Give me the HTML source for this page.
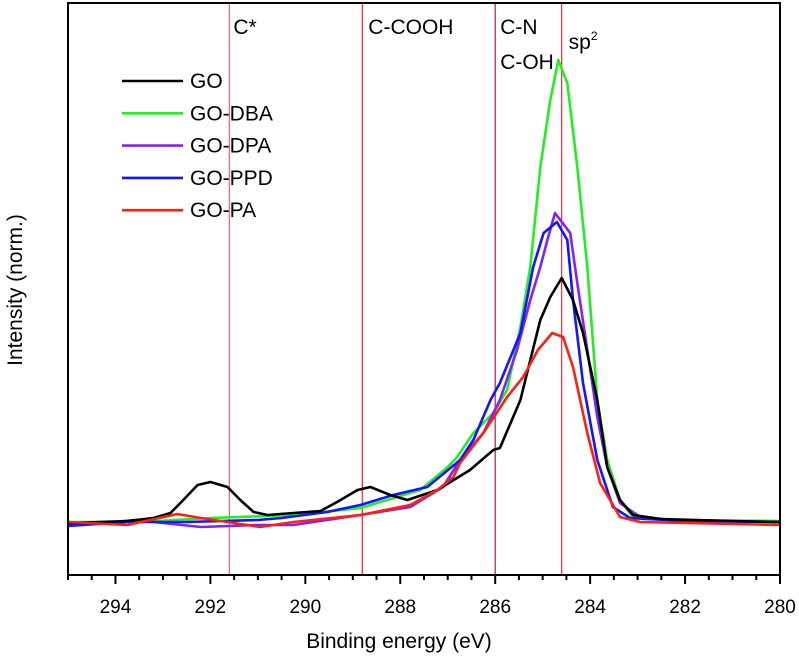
<!DOCTYPE html>
<html><head><meta charset="utf-8"><style>
body{margin:0;background:#fff}
svg{display:block;font-family:"Liberation Sans",Arial,sans-serif}
</style></head><body>
<svg id="chart" width="799" height="663">
<g id="lines"></g>
<g id="marks"></g>
<rect x="68" y="3" width="712" height="572" fill="none" stroke="#000" stroke-width="2"/>
<g id="xaxis"></g>
<text x="399" y="648" font-size="21" text-anchor="middle">Binding energy (eV)</text>
<text transform="translate(22,290) rotate(-90)" font-size="21" text-anchor="middle">Intensity (norm.)</text>
<g id="legend"></g>
</svg>
<script>
const xTicks=[294,292,290,288,286,284,282,280];
const refLines=[291.6,288.8,286.0,284.6];
const refLabels=["C*","C-COOH","C-N","C-OH","sp"];
const seriesNames=["GO","GO-DBA","GO-DPA","GO-PPD","GO-PA"];
const seriesColors=["#000000","#22ee22","#7f22ff","#1414ff","#ff2010"];
const goX=[295,294.95,293.75,293.2,292.84,292.57,292.27,292.0,291.64,291.37,291.09,290.8,290.25,289.68,289.33,288.9,288.63,288.21,287.85,287.22,286.53,286.04,285.9,285.47,285.26,285.05,284.84,284.6,284.36,284.15,283.85,283.64,283.37,283.1,282.5,281,280];
const goY=[52,52,54,57,62,75,90,93,88,75,63,60,62,64,73,85,88,80,75,85,105,125,127,175,215,255,278,297,275,242,175,108,75,60,56,54,53];
const dbaX=[295,293.5,292,290.25,288.84,287.58,287.0,286.8,286.46,286.04,285.75,285.47,285.26,285.05,284.84,284.67,284.48,284.27,284.06,283.85,283.64,283.37,283.1,282.5,280];
const dbaY=[53,53,57,60,67,85,108,118,142,162,185,248,308,408,475,515,492,408,308,175,115,75,58,55,54];
const dpaX=[295,294.0,293.6,292.2,291.0,290.25,288.84,287.79,287.1,286.74,286.25,285.9,285.54,285.26,285.05,284.9,284.74,284.42,284.27,284.06,283.85,283.64,283.37,282.95,282,280];
const dpaY=[50,53,55,48,50,50,60,68,88,115,142,175,225,275,308,335,362,342,292,225,158,108,72,58,54,53];
const ppdX=[295,293.75,292.5,291,290.5,289.54,288.84,288.15,287.43,286.74,286.46,286.1,285.9,285.47,285.2,284.98,284.7,284.48,284.36,284.15,283.85,283.52,283.16,282,280];
const ppdY=[49,53,53,55,57,63,70,80,88,115,135,175,192,242,308,342,353,335,275,192,115,68,57,54,53];
const paX=[295,293.75,292.7,292.2,291.5,290.95,290.25,288.84,287.79,287.22,286.88,286.74,286.25,285.75,285.41,285.1,284.8,284.57,284.36,284.06,283.79,283.37,282.95,280];
const paY=[53,50,61,57,52,48,53,60,70,85,98,112,142,178,198,225,242,238,208,142,92,58,53,50];
const allX=[goX,dbaX,dpaX,ppdX,paX];
const allY=[goY,dbaY,dpaY,ppdY,paY];
const seriesKeys=["go","go-dba","go-dpa","go-ppd","go-pa"];

const X0=68,X1=780,Y0=575,Y1=3;
const xs=v=>X0+(295-v)/(295-280)*(X1-X0);
const ys=v=>Y0-v/572*(Y0-Y1);
const NS="http://www.w3.org/2000/svg";
function mk(t,a,p){const e=document.createElementNS(NS,t);for(const k in a)e.setAttribute(k,a[k]);p.appendChild(e);return e;}

const xa=document.getElementById('xaxis');
for(let v=295;v>=280;v-=0.5){
  const major=Math.abs(v-Math.round(v/2)*2)<1e-9;
  const t=mk('line',{x1:xs(v),x2:xs(v),y1:Y0,y2:Y0+(major?9:5),stroke:'#000','stroke-width':2},xa);
  
  
}
xTicks.forEach(v=>{
  const t=mk('text',{x:xs(v),y:613,'font-size':19,'text-anchor':'middle'},xa);
  t.textContent=v;
  
  
});

const ln=document.getElementById('lines');
const refCols=['#ff6060','#ff2020','#c01060','#ff2030'];
refLines.forEach((v,i)=>{
  const l=mk('line',{x1:xs(v),x2:xs(v),y1:Y1,y2:Y0,stroke:refCols[i],'stroke-width':1.2},ln);
  
  
});
const labPos=[[xs(refLines[0])+4,34],[xs(refLines[1])+6,34],[xs(refLines[2])+5,34],[xs(refLines[2])+5,69]];
labPos.forEach((p,i)=>{
  const t=mk('text',{x:p[0],y:p[1],'font-size':21},ln);
  t.textContent=refLabels[i];
  
  
});
const sp=mk('text',{x:xs(refLines[3])+7,y:49,'font-size':21},ln);
sp.innerHTML='sp<tspan dy="-9" font-size="12">2</tspan>';



const mg=document.getElementById('marks');
const order=[1,2,3,0,4];
order.forEach(i=>{
  const d=allX[i].map((x,j)=>(j?'L':'M')+xs(x).toFixed(1)+','+ys(allY[i][j]).toFixed(1)).join('');
  const p=mk('path',{d:d,fill:'none',stroke:seriesColors[i],'stroke-width':2.6,'stroke-linejoin':'round'},mg);
  
  
});

const lg=document.getElementById('legend');
seriesNames.forEach((n,i)=>{
  const y=81+i*32.3;
  const g=mk('g',{},lg);
  
  
  mk('line',{x1:122,x2:183,y1:y,y2:y,stroke:seriesColors[i],'stroke-width':2.6},g);
  const t=mk('text',{x:190,y:y+7,'font-size':21},g);
  t.textContent=n;
});
</script>
</body></html>
